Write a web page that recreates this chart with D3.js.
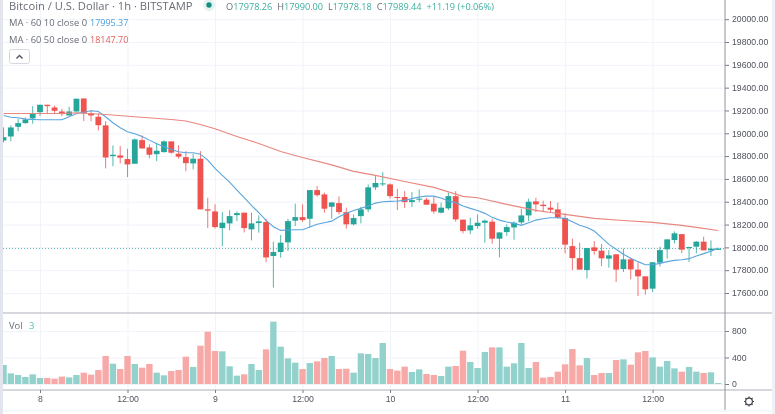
<!DOCTYPE html>
<html>
<head>
<meta charset="utf-8">
<script src="https://cdn.jsdelivr.net/npm/d3@7/dist/d3.min.js"></script>
<style>
  html, body { margin: 0; padding: 0; background: #fff; overflow: hidden; }
  svg { display: block; font-family: "Open Sans", sans-serif; filter: blur(0.35px); }
  .axis text { fill: #50535e; font-size: 8.7px; }
  .axis line { stroke: #787b86; }
  .axis .domain { display: none; }
  .grid line { stroke: #f0f3fa; }
  .grid .domain, .grid text { display: none; }
</style>
</head>
<body>
<svg id="chart" width="775" height="414"></svg>
<script>
const upColor = '#26a69a';
const downColor = '#ef5350';

// hours counted from the "8" tick; one candle per hour
const hours = d3.range(-5, 94);

const opens = [
  18937, 18972, 19057, 19089, 19130,
  19185, 19250, 19226, 19191, 19156, 19191, 19305, 19176, 19145, 19069,
  18800, 18806, 18774, 18733, 18940, 18876, 18817, 18835, 18929, 18821,
  18791, 18736, 18777, 18333, 18315, 18169, 18210, 18283, 18304, 18158,
  18213, 18222, 17924, 17959, 18044, 18234, 18265, 18251, 18502, 18464,
  18356, 18388, 18309, 18202, 18274, 18333, 18526, 18552, 18552, 18441,
  18441, 18397, 18418, 18418, 18383, 18304, 18342, 18449, 18243, 18149,
  18187, 18216, 18225, 18076, 18134, 18175, 18219, 18280, 18403, 18374,
  18348, 18333, 18257, 18011, 17906, 17801, 18000, 17971, 17901, 17939,
  17810, 17895, 17805, 17746, 17638, 17866, 17983, 18064, 18116, 17994,
  18006, 18050, 17974, 17978.26
];
const highs = [
  19051, 19069, 19127, 19139, 19238,
  19250, 19250, 19244, 19215, 19232, 19303, 19305, 19203, 19174, 19106,
  18894, 18887, 18865, 18955, 18981, 18902, 18917, 18937, 18929, 18894,
  18844, 18821, 18844, 18435, 18377, 18309, 18327, 18315, 18304, 18304,
  18280, 18251, 18050, 18108, 18251, 18383, 18377, 18502, 18537, 18479,
  18394, 18447, 18348, 18289, 18356, 18552, 18625, 18660, 18561, 18514,
  18493, 18484, 18508, 18435, 18444, 18392, 18479, 18493, 18243, 18260,
  18289, 18245, 18251, 18131, 18202, 18228, 18339, 18427, 18435, 18409,
  18406, 18392, 18298, 18076, 18041, 17994, 18055, 18029, 17976, 17939,
  17989, 17910, 17866, 17746, 17869, 18006, 18070, 18140, 18116, 18006,
  18055, 18094, 18061, 17990
];
const lows = [
  18920, 18931, 19019, 19084, 19084,
  19150, 19168, 19168, 19150, 19156, 19191, 19106, 19106, 19025, 18692,
  18712, 18736, 18616, 18733, 18867, 18780, 18756, 18830, 18821, 18777,
  18668, 18683, 18333, 18169, 18166, 18011, 18149, 18230, 18131, 18061,
  18129, 17871, 17647, 17910, 17968, 18187, 18225, 18175, 18444, 18304,
  18251, 18289, 18164, 18193, 18210, 18309, 18504, 18537, 18427, 18327,
  18344, 18353, 18397, 18374, 18295, 18298, 18327, 18225, 18123, 18116,
  18164, 18041, 18032, 17912, 18099, 18067, 18199, 18230, 18309, 18309,
  18309, 18251, 17948, 17801, 17805, 17726, 17936, 17836, 17822, 17696,
  17784, 17720, 17573, 17586, 17608, 17831, 17901, 18035, 17948, 17871,
  17948, 17974, 17924, 17978.18
];
const closes = [
  18966, 19051, 19089, 19121, 19176,
  19250, 19238, 19197, 19168, 19191, 19303, 19174, 19156, 19071, 18788,
  18812, 18786, 18727, 18946, 18867, 18812, 18847, 18929, 18830, 18795,
  18738, 18777, 18333, 18322, 18178, 18216, 18274, 18300, 18169, 18210,
  18228, 17912, 17959, 18041, 18230, 18265, 18239, 18502, 18458, 18339,
  18394, 18309, 18202, 18257, 18333, 18526, 18565, 18561, 18449, 18432,
  18397, 18414, 18427, 18374, 18315, 18348, 18449, 18245, 18143, 18193,
  18216, 18234, 18076, 18131, 18178, 18216, 18280, 18400, 18377, 18362,
  18330, 18260, 18024, 17906, 17805, 17994, 17968, 17904, 17930, 17805,
  17895, 17807, 17746, 17632, 17869, 17976, 18070, 18123, 17980, 18003,
  18050, 17974, 17989, 17989.44
];
const volumes = [
  287, 161, 136, 106, 146,
  91, 91, 80, 111, 100, 136, 171, 141, 211, 423,
  307, 226, 423, 302, 246, 302, 171, 131, 196, 211,
  412, 257, 578, 790, 498, 493, 267, 126, 146, 302,
  211, 523, 941, 563, 387, 322, 226, 317, 342, 392,
  423, 226, 231, 171, 463, 453, 392, 619, 226, 201,
  262, 181, 221, 151, 136, 121, 262, 272, 503, 332,
  241, 483, 553, 553, 262, 312, 619, 241, 332, 96,
  106, 186, 297, 528, 282, 392, 136, 166, 166, 362,
  372, 292, 478, 498, 402, 262, 347, 236, 186, 257,
  186, 166, 176, 3
];
const ma10 = [
  19156, 19141, 19136, 19124, 19121,
  19119, 19119, 19119, 19119, 19145, 19174, 19185, 19197, 19191, 19145,
  19092, 19049, 19014, 18996, 18972, 18940, 18908, 18882, 18858, 18838,
  18830, 18830, 18817, 18765, 18692, 18631, 18572, 18502, 18435, 18368,
  18304, 18237, 18181, 18149, 18152, 18155, 18155, 18178, 18202, 18216,
  18230, 18269, 18300, 18324, 18342, 18362, 18388, 18400, 18403, 18406,
  18412, 18427, 18441, 18449, 18449, 18432, 18406, 18392, 18362, 18342,
  18324, 18298, 18263, 18239, 18222, 18210, 18193, 18216, 18239, 18251,
  18260, 18260, 18254, 18225, 18193, 18175, 18143, 18085, 18026, 17983,
  17939, 17904, 17875, 17848, 17848, 17860, 17875, 17886, 17892, 17901,
  17924, 17945, 17965, 17995.37
];
// the slow average is smooth, read at fewer hours
const ma50Hours = [-5, -1, 3, 5, 9, 13, 18, 20, 22, 24, 27, 30, 33, 36, 40, 43, 46, 50, 54, 58, 60, 64, 68, 70, 72, 76, 80, 84, 88, 90, 93];
const ma50 = [19174, 19174, 19174, 19180, 19165, 19145, 19121, 19108, 19077, 19040, 18972, 18911, 18841, 18788, 18723, 18666, 18631, 18578, 18526, 18447, 18435, 18377, 18324, 18306, 18289, 18254, 18236, 18219, 18193, 18175, 18147.7];

const priceTicks = d3.range(17600, 20001, 200);
const volumeTicks = [0, 400, 800];
const timeTicks = [0, 12, 24, 36, 48, 60, 72, 84];
const timeLabels = ['8', '12:00', '9', '12:00', '10', '12:00', '11', '12:00'];

const lastClose = 17989.44;

const legendOhlc = [['O', '17978.26'], ['H', '17990.00'], ['L', '17978.18'], ['C', '17989.44']];

// layout
const plot = { left: 3, right: 725, top: 0, priceBottom: 313, volBottom: 390, bottom: 411 };

const x = d3.scaleLinear().domain([0, 84]).range([40, 652.6]);
const y = d3.scaleLinear().domain([17600, 20000]).range([293, 19.2]);
const yVol = d3.scaleLinear().domain([0, 800]).range([384, 331]);

const svg = d3.select('#chart');
svg.append('defs').append('clipPath').attr('id', 'plot-clip')
  .append('rect').attr('x', plot.left).attr('y', 0)
  .attr('width', plot.right - plot.left).attr('height', plot.priceBottom);

// left strip of the page
svg.append('rect').attr('x', 0).attr('y', 0).attr('width', 3).attr('height', 414).attr('fill', '#e3e5ee');
svg.append('rect').attr('x', 772).attr('y', 0).attr('width', 3).attr('height', 414).attr('fill', '#f0f1f6');

// grids
svg.append('g').attr('class', 'grid')
  .attr('transform', `translate(${plot.left},0)`)
  .call(d3.axisRight(y).tickValues(priceTicks).tickSize(plot.right - plot.left).tickFormat(''));
svg.append('g').attr('class', 'grid')
  .attr('transform', `translate(${plot.left},0)`)
  .call(d3.axisRight(yVol).tickValues(volumeTicks).tickSize(plot.right - plot.left).tickFormat(''));
svg.append('g').attr('class', 'grid')
  .attr('transform', 'translate(0,0)')
  .call(d3.axisBottom(x).tickValues(timeTicks).tickSize(plot.volBottom).tickFormat(''));

// last price line
svg.append('line')
  .attr('x1', plot.left).attr('x2', plot.right)
  .attr('y1', y(lastClose)).attr('y2', y(lastClose))
  .attr('stroke', upColor).attr('stroke-opacity', 0.75).attr('stroke-dasharray', '1 2');

// candles
const candles = hours.map((h, i) => ({ h, o: opens[i], hi: highs[i], lo: lows[i], c: closes[i], v: volumes[i], up: closes[i] >= opens[i] }));
const candleG = svg.append('g').attr('clip-path', 'url(#plot-clip)');

candleG.selectAll('.wick').data(candles).join('line')
  .attr('class', 'wick')
  .attr('x1', d => x(d.h)).attr('x2', d => x(d.h))
  .attr('y1', d => y(d.hi)).attr('y2', d => y(d.lo))
  .attr('stroke', d => d.up ? upColor : downColor)
  .attr('stroke-opacity', 0.8)
  .attr('stroke-width', 1);

candleG.selectAll('.body').data(candles).join('rect')
  .attr('class', 'body')
  .attr('x', d => x(d.h) - 2.9)
  .attr('width', 5.8)
  .attr('y', d => y(Math.max(d.o, d.c)))
  .attr('height', d => Math.max(1, Math.abs(y(d.o) - y(d.c))))
  .attr('fill', d => d.up ? upColor : downColor);

// moving averages
const ma10Line = d3.line().x((d, i) => x(hours[i])).y(d => y(d));
candleG.append('path').attr('d', ma10Line(ma10))
  .attr('fill', 'none').attr('stroke', '#5aa5dc').attr('stroke-width', 1.1);
const ma50Line = d3.line().x((d, i) => x(ma50Hours[i])).y(d => y(d));
candleG.append('path').attr('d', ma50Line(ma50))
  .attr('fill', 'none').attr('stroke', '#e8877f').attr('stroke-width', 1.1);

// volume
svg.append('g').selectAll('rect').data(candles).join('rect')
  .attr('x', d => Math.max(plot.left, x(d.h) - 3.2))
  .attr('width', d => x(d.h) + 3.2 - Math.max(plot.left, x(d.h) - 3.2))
  .attr('y', d => Math.min(yVol(d.v), yVol(0) - 1))
  .attr('height', d => Math.max(1, yVol(0) - yVol(d.v)))
  .attr('fill', d => d.up ? '#93d2cc' : '#f7a9a7');

// pane separators
[plot.priceBottom, plot.volBottom].forEach(py => {
  svg.append('line').attr('x1', plot.left).attr('x2', 772).attr('y1', py).attr('y2', py)
    .attr('stroke', '#c9cbd3').attr('stroke-width', 1.4);
});
svg.append('line').attr('x1', plot.left).attr('x2', 772).attr('y1', plot.bottom).attr('y2', plot.bottom)
  .attr('stroke', '#eef0f4');

// axes
const priceAxis = d3.axisRight(y).tickValues(priceTicks).tickSize(4).tickPadding(3).tickFormat(d3.format('.2f'));
svg.append('g').attr('class', 'axis').attr('transform', `translate(${plot.right},0)`).call(priceAxis);
const volAxis = d3.axisRight(yVol).tickValues(volumeTicks).tickSize(4).tickPadding(3).tickFormat(d3.format('d'));
svg.append('g').attr('class', 'axis').attr('transform', `translate(${plot.right},0)`).call(volAxis);
const timeAxis = d3.axisBottom(x).tickValues(timeTicks).tickSize(3).tickPadding(3).tickFormat((d, i) => timeLabels[i]);
svg.append('g').attr('class', 'axis').attr('transform', `translate(0,${plot.volBottom})`).call(timeAxis);

svg.append('line').attr('x1', plot.right).attr('x2', plot.right).attr('y1', 0).attr('y2', 410)
  .attr('stroke', '#8f929b');

// header legend
const grey = '#6a6d78';
svg.append('text').attr('x', 9).attr('y', 10).attr('fill', grey).attr('font-size', 11.2)
  .text('Bitcoin / U.S. Dollar · 1h · BITSTAMP');
svg.append('circle').attr('cx', 209).attr('cy', 5).attr('r', 6).attr('fill', '#e4f2f1');
svg.append('circle').attr('cx', 209).attr('cy', 5).attr('r', 2.7).attr('fill', '#13907f');

const ohlcText = svg.append('text').attr('x', 226).attr('y', 9.5).attr('font-size', 9.2);
legendOhlc.forEach(([k, v]) => {
  ohlcText.append('tspan').attr('fill', grey).text(k);
  ohlcText.append('tspan').attr('fill', '#3fae9f').text(v + '\u00a0\u00a0');
});
ohlcText.append('tspan').attr('fill', '#3fae9f').text('+11.19 (+0.06%)');

const maRows = [
  { y: 25.5, label: 'MA · 60 10 close 0', value: '17995.37', color: '#4a9fdd' },
  { y: 43, label: 'MA · 60 50 close 0', value: '18147.70', color: '#e0605a' }
];
maRows.forEach(r => {
  svg.append('text').attr('x', 9).attr('y', r.y).attr('fill', grey).attr('font-size', 9.4).text(r.label);
  svg.append('text').attr('x', 90).attr('y', r.y).attr('fill', r.color).attr('font-size', 9).text(r.value);
});

// collapse button
svg.append('rect').attr('x', 9.5).attr('y', 49.5).attr('width', 20).attr('height', 14).attr('rx', 2)
  .attr('fill', '#fff').attr('stroke', '#d6d8e0');
svg.append('path').attr('d', 'M16.5 58.5 L19.5 55.5 L22.5 58.5').attr('fill', 'none').attr('stroke', '#50535e').attr('stroke-width', 1.4);

// volume legend
svg.append('text').attr('x', 9).attr('y', 329).attr('fill', grey).attr('font-size', 9.4).text('Vol');
svg.append('text').attr('x', 29).attr('y', 329).attr('fill', '#5cbcb0').attr('font-size', 9.4).text('3');

// settings gear
const gear = svg.append('g').attr('transform', 'translate(749,401.5)').attr('fill', 'none').attr('stroke', '#44474f').attr('stroke-width', 1.2);
gear.append('circle').attr('r', 3.4);
d3.range(8).forEach(i => {
  const a = i * Math.PI / 4;
  gear.append('line').attr('x1', 3.4 * Math.cos(a)).attr('y1', 3.4 * Math.sin(a))
    .attr('x2', 5 * Math.cos(a)).attr('y2', 5 * Math.sin(a));
});
</script>
</body>
</html>
